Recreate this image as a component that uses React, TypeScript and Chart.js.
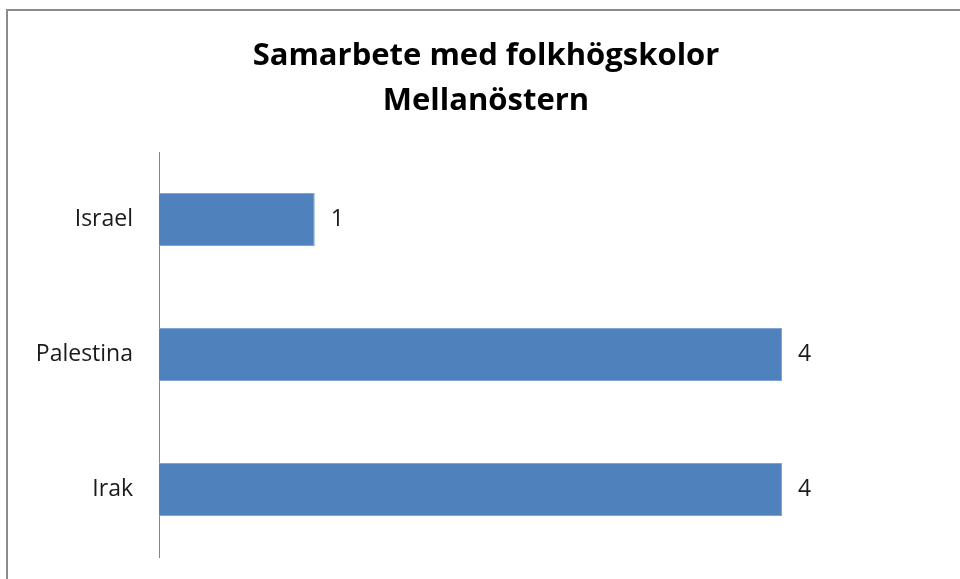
import React, { useEffect, useRef } from "react";
import { Chart, registerables } from "chart.js";

Chart.register(...registerables);

const categories = ["Israel", "Palestina", "Irak"];
const values = [1, 4, 4];
const titleLines = ["Samarbete med folkhögskolor", "Mellanöstern"];

const FONT = "'Open Sans', 'DejaVu Sans', sans-serif";

const framePlugin = {
  id: "frame",
  beforeDraw(chart: any) {
    const ctx = chart.ctx;
    ctx.save();
    ctx.fillStyle = "#ffffff";
    ctx.fillRect(0, 0, chart.width, chart.height);
    ctx.strokeStyle = "#8c8c8c";
    ctx.lineWidth = 2;
    ctx.strokeRect(7, 10, chart.width + 20, chart.height + 20);
    ctx.restore();
  },
  afterDraw(chart: any) {
    const ctx = chart.ctx;
    ctx.save();
    ctx.fillStyle = "#000000";
    ctx.font = `bold 31px ${FONT}`;
    ctx.textAlign = "center";
    ctx.textBaseline = "middle";
    titleLines.forEach((t, i) => ctx.fillText(t, 486, 56 + i * 45));
    const meta = chart.getDatasetMeta(0);
    ctx.font = `23px ${FONT}`;
    ctx.fillStyle = "#1a1a1a";
    ctx.textAlign = "left";
    meta.data.forEach((bar: any, i: number) => {
      ctx.fillText(String(values[i]), bar.x + 16, bar.y);
    });
    ctx.restore();
  },
};

export default function App() {
  const ref = useRef<HTMLCanvasElement>(null);
  useEffect(() => {
    if (!ref.current) return;
    const chart = new Chart(ref.current, {
      type: "bar",
      data: {
        labels: categories,
        datasets: [
          {
            data: values,
            backgroundColor: "#4f81bd",
            borderColor: "#7fa5d4",
            borderWidth: 1,
            categoryPercentage: 1,
            barPercentage: 0.393,
          },
        ],
      },
      options: {
        indexAxis: "y",
        animation: false,
        responsive: false,
        maintainAspectRatio: false,
        layout: { padding: { top: 152, bottom: 22, right: 178, left: 0 } },
        plugins: {
          legend: { display: false },
          title: { display: false },
          tooltip: { enabled: false },
        },
        scales: {
          x: { display: false, min: 0, max: 4 },
          y: {
            grid: { display: false, drawTicks: false },
            border: { display: true, color: "#868686", width: 1 },
            ticks: {
              padding: 26,
              color: "#1a1a1a",
              font: { family: FONT, size: 23 },
            },
            afterFit(scale: any) {
              scale.width = 159;
              scale.paddingTop = 0;
              scale.paddingBottom = 0;
            },
          },
        },
      },
      plugins: [framePlugin],
    });
    return () => chart.destroy();
  }, []);
  return (
    <div style={{ position: "fixed", left: 0, top: 0, width: 960, height: 579 }}>
      <canvas ref={ref} width={960} height={579} style={{ width: 960, height: 579, display: "block" }} />
    </div>
  );
}
